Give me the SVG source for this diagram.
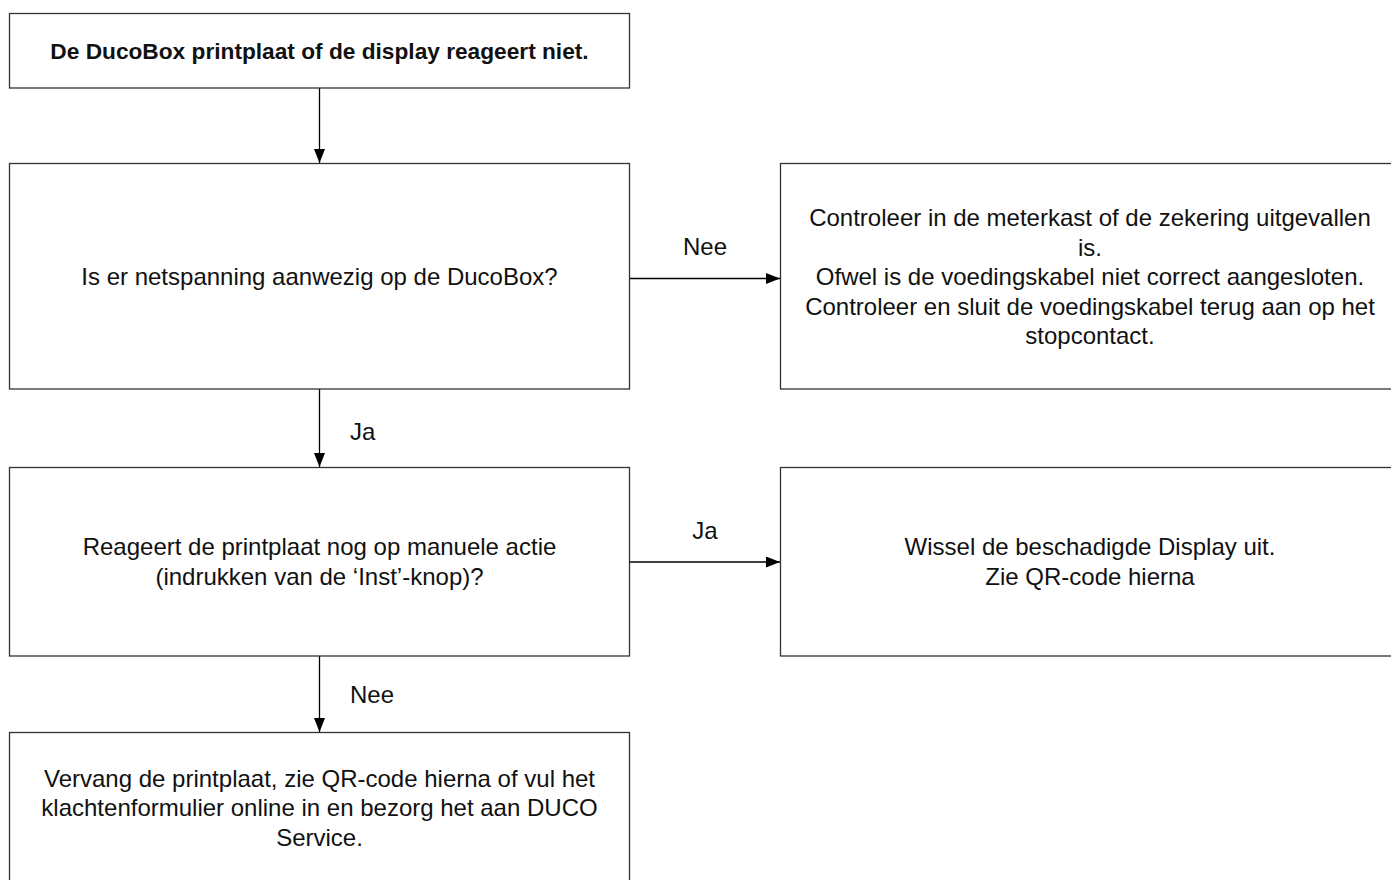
<svg xmlns="http://www.w3.org/2000/svg" width="1391" height="880" viewBox="0 0 1391 880">
<style>
.box{fill:#fff;stroke:#333;stroke-width:1.3}
.t{font-family:"Liberation Sans",Arial,sans-serif;font-size:24px;fill:#111;text-anchor:middle}
.b{font-weight:bold;font-size:22.7px}
.lbl{font-family:"Liberation Sans",Arial,sans-serif;font-size:24px;fill:#111}
.c{stroke:#000;stroke-width:1.3;fill:none;marker-end:url(#ah)}
</style>
<defs>
<marker id="ah" markerUnits="userSpaceOnUse" markerWidth="14" markerHeight="11" refX="14" refY="5.5" orient="auto">
<path d="M0,0 L14,5.5 L0,11 z" fill="#000"/>
</marker>
</defs>
<rect width="1391" height="880" fill="#fff"/>
<g id="connectors">
<line class="c" x1="319.5" y1="88" x2="319.5" y2="163"/>
<line class="c" x1="319.5" y1="389" x2="319.5" y2="467"/>
<line class="c" x1="319.5" y1="656" x2="319.5" y2="732"/>
<line class="c" x1="629.5" y1="278.5" x2="780" y2="278.5"/>
<line class="c" x1="629.5" y1="562" x2="780" y2="562"/>
<text class="lbl" x="705" y="255" text-anchor="middle">Nee</text>
<text class="lbl" x="705" y="539" text-anchor="middle">Ja</text>
<text class="lbl" x="350" y="440">Ja</text>
<text class="lbl" x="350" y="703">Nee</text>
</g>
<g id="n1">
<rect class="box" x="9.5" y="13.5" width="620" height="74.5"/>
<text class="t b" x="319.5" y="59">De DucoBox printplaat of de display reageert niet.</text>
</g>
<g id="n2">
<rect class="box" x="9.5" y="163.5" width="620" height="225.5"/>
<text class="t" x="319.5" y="285">Is er netspanning aanwezig op de DucoBox?</text>
</g>
<g id="r1">
<rect class="box" x="780.5" y="163.5" width="620" height="225.5"/>
<text class="t" x="1090" y="226">Controleer in de meterkast of de zekering uitgevallen</text>
<text class="t" x="1090" y="255.5">is.</text>
<text class="t" x="1090" y="285">Ofwel is de voedingskabel niet correct aangesloten.</text>
<text class="t" x="1090" y="314.5">Controleer en sluit de voedingskabel terug aan op het</text>
<text class="t" x="1090" y="344">stopcontact.</text>
</g>
<g id="n3">
<rect class="box" x="9.5" y="467.5" width="620" height="188.5"/>
<text class="t" x="319.5" y="555">Reageert de printplaat nog op manuele actie</text>
<text class="t" x="319.5" y="584.5">(indrukken van de ‘Inst’-knop)?</text>
</g>
<g id="r2">
<rect class="box" x="780.5" y="467.5" width="620" height="188.5"/>
<text class="t" x="1090" y="555">Wissel de beschadigde Display uit.</text>
<text class="t" x="1090" y="584.5">Zie QR-code hierna</text>
</g>
<g id="n4">
<rect class="box" x="9.5" y="732.5" width="620" height="160"/>
<text class="t" x="319.5" y="786.5">Vervang de printplaat, zie QR-code hierna of vul het</text>
<text class="t" x="319.5" y="816">klachtenformulier online in en bezorg het aan DUCO</text>
<text class="t" x="319.5" y="845.5">Service.</text>
</g>
</svg>
